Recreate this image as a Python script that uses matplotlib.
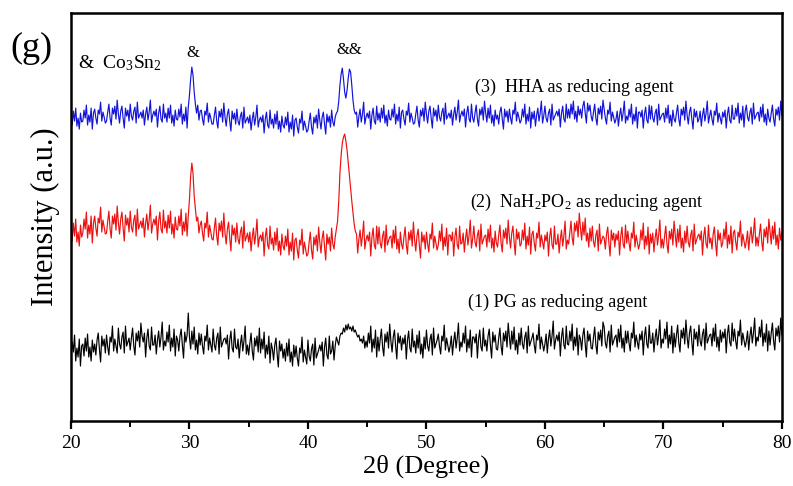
import numpy as np
import matplotlib.pyplot as plt
from matplotlib.ticker import MultipleLocator

plt.rcParams['font.family'] = ['Liberation Serif', 'DejaVu Serif']
plt.rcParams['mathtext.fontset'] = 'custom'
plt.rcParams['mathtext.rm'] = 'Liberation Serif'
plt.rcParams['mathtext.it'] = 'Liberation Serif:italic'

# intensities, one row per degree (0.1 deg step), 20..80
# (3) HHA as reducing agent
hha = [
    315, 306, 320, 310, 323, 305, 313, 302, 318, 309,  # 20
    310, 321, 313, 326, 306, 316, 309, 323, 302, 318,
    322, 313, 307, 321, 317, 329, 310, 319, 314, 308,
    310, 319, 327, 313, 306, 323, 317, 325, 312, 331,
    317, 308, 320, 325, 313, 303, 323, 315, 321, 310,
    327, 315, 311, 320, 324, 308, 329, 313, 316, 319,  # 25
    313, 321, 306, 317, 324, 311, 319, 331, 309, 316,
    320, 315, 322, 304, 318, 325, 312, 309, 327, 313,
    318, 309, 323, 313, 326, 308, 316, 305, 321, 312,
    311, 322, 314, 327, 307, 317, 310, 324, 303, 324,
    336, 352, 364, 356, 339, 327, 318, 326, 311, 320,  # 30
    321, 312, 306, 320, 316, 328, 309, 318, 313, 307,
    307, 316, 324, 310, 303, 320, 314, 322, 309, 328,
    314, 305, 317, 322, 310, 300, 320, 312, 318, 307,
    322, 310, 306, 315, 319, 303, 324, 308, 311, 314,
    308, 316, 301, 312, 319, 306, 314, 326, 304, 311,  # 35
    314, 309, 316, 298, 312, 319, 306, 303, 321, 307,
    312, 303, 317, 307, 320, 302, 310, 299, 315, 306,
    303, 314, 306, 319, 299, 309, 302, 316, 295, 311,
    313, 304, 298, 312, 308, 320, 301, 310, 305, 299,
    301, 310, 318, 304, 297, 314, 308, 316, 303, 322,  # 40
    311, 302, 314, 319, 307, 297, 317, 309, 315, 304,
    321, 309, 305, 314, 318, 320, 330, 346, 357, 363,
    352, 339, 333, 341, 353, 362, 359, 346, 331, 321,
    317, 319, 304, 315, 322, 309, 317, 329, 307, 314,
    318, 313, 320, 302, 316, 323, 310, 307, 325, 311,  # 45
    318, 309, 323, 313, 326, 308, 316, 305, 321, 312,
    311, 322, 314, 327, 307, 317, 310, 324, 303, 319,
    321, 312, 306, 320, 316, 328, 309, 318, 313, 307,
    308, 317, 325, 311, 304, 321, 315, 323, 310, 329,
    317, 308, 320, 325, 313, 303, 323, 315, 321, 310,  # 50
    326, 314, 310, 319, 323, 307, 328, 312, 315, 318,
    313, 321, 306, 317, 324, 311, 319, 331, 309, 316,
    320, 315, 322, 304, 318, 325, 312, 309, 327, 313,
    309, 318, 326, 312, 305, 322, 316, 324, 311, 330,
    318, 309, 323, 313, 326, 308, 316, 305, 321, 312,  # 55
    316, 307, 319, 324, 312, 302, 322, 314, 320, 309,
    322, 313, 307, 321, 317, 329, 310, 319, 314, 308,
    311, 322, 314, 327, 307, 317, 310, 324, 303, 319,
    312, 320, 305, 316, 323, 310, 318, 330, 308, 315,
    325, 313, 309, 318, 322, 306, 327, 311, 314, 317,  # 60
    320, 315, 322, 304, 318, 325, 312, 309, 327, 313,
    322, 313, 327, 317, 330, 312, 320, 309, 325, 316,
    322, 313, 325, 330, 318, 308, 328, 320, 326, 315,
    310, 319, 327, 313, 306, 323, 317, 325, 312, 331,
    322, 313, 307, 321, 317, 329, 310, 319, 314, 308,  # 65
    312, 320, 305, 316, 323, 310, 318, 330, 308, 315,
    311, 322, 314, 327, 307, 317, 310, 324, 303, 319,
    319, 314, 321, 303, 317, 324, 311, 308, 326, 312,
    325, 313, 309, 318, 322, 306, 327, 311, 314, 317,
    318, 309, 323, 313, 326, 308, 316, 305, 321, 312,  # 70
    309, 318, 326, 312, 305, 322, 316, 324, 311, 330,
    316, 307, 319, 324, 312, 302, 322, 314, 320, 309,
    312, 320, 305, 316, 323, 310, 318, 330, 308, 315,
    321, 312, 306, 320, 316, 328, 309, 318, 313, 307,
    319, 314, 321, 303, 317, 324, 311, 308, 326, 312,  # 75
    312, 323, 315, 328, 308, 318, 311, 325, 304, 320,
    326, 314, 310, 319, 323, 307, 328, 312, 315, 318,
    319, 310, 324, 314, 327, 309, 317, 306, 322, 313,
    309, 318, 326, 312, 305, 322, 316, 324, 311, 330,
    316,
]

# (2) NaH2PO2 as reducing agent
nah2po2 = [
    202, 190, 208, 195, 212, 189, 199, 185, 206, 194,  # 20
    198, 212, 202, 219, 193, 206, 197, 215, 188, 208,
    215, 203, 195, 213, 208, 224, 199, 211, 204, 197,
    198, 210, 220, 202, 193, 215, 207, 217, 201, 225,
    208, 197, 212, 219, 203, 190, 216, 206, 213, 199,
    220, 204, 199, 211, 216, 195, 222, 202, 206, 210,  # 25
    203, 213, 194, 208, 217, 201, 211, 226, 198, 207,
    212, 206, 215, 191, 210, 219, 202, 198, 221, 203,
    210, 198, 216, 203, 220, 197, 207, 193, 214, 202,
    201, 215, 205, 222, 196, 209, 200, 218, 195, 215,
    232, 255, 268, 258, 235, 222, 210, 214, 198, 206,  # 30
    210, 198, 190, 208, 203, 219, 194, 206, 199, 192,
    191, 203, 213, 195, 186, 208, 200, 210, 194, 218,
    198, 187, 202, 209, 193, 180, 206, 196, 203, 189,
    208, 192, 187, 199, 204, 183, 210, 190, 194, 198,
    189, 199, 180, 194, 203, 187, 197, 212, 184, 193,  # 35
    196, 190, 199, 175, 194, 203, 186, 182, 205, 187,
    193, 181, 199, 186, 203, 180, 190, 176, 197, 185,
    181, 195, 185, 202, 176, 189, 180, 198, 171, 191,
    193, 181, 173, 191, 186, 202, 177, 189, 182, 175,
    177, 189, 199, 181, 172, 194, 186, 196, 180, 204,  # 40
    189, 178, 193, 200, 184, 171, 197, 187, 194, 180,
    203, 187, 182, 194, 202, 210, 230, 258, 276, 288,
    294, 297, 290, 281, 268, 256, 243, 230, 218, 207,
    200, 197, 178, 192, 201, 185, 195, 210, 182, 191,
    196, 190, 199, 175, 194, 203, 186, 182, 205, 187,  # 45
    204, 188, 183, 195, 200, 179, 206, 186, 190, 194,
    195, 183, 201, 188, 205, 182, 192, 178, 199, 187,
    182, 194, 204, 186, 177, 199, 191, 201, 185, 209,
    191, 180, 195, 202, 186, 173, 199, 189, 196, 182,
    199, 187, 179, 197, 192, 208, 183, 195, 188, 181,  # 50
    186, 200, 190, 207, 181, 194, 185, 203, 176, 196,
    196, 190, 199, 175, 194, 203, 186, 182, 205, 187,
    188, 198, 179, 193, 202, 186, 196, 211, 183, 192,
    205, 189, 184, 196, 201, 180, 207, 187, 191, 195,
    196, 184, 202, 189, 206, 183, 193, 179, 200, 188,  # 55
    184, 196, 206, 188, 179, 201, 193, 203, 187, 211,
    194, 183, 198, 205, 189, 176, 202, 192, 199, 185,
    187, 201, 191, 208, 182, 195, 186, 204, 177, 197,
    200, 188, 180, 198, 193, 209, 184, 196, 189, 182,
    196, 190, 199, 175, 194, 203, 186, 182, 205, 187,  # 60
    187, 197, 178, 192, 201, 185, 195, 210, 182, 191,
    187, 199, 210, 193, 186, 208, 200, 210, 194, 218,
    203, 191, 209, 196, 213, 190, 198, 184, 203, 190,
    205, 189, 184, 196, 201, 180, 207, 187, 191, 195,
    193, 182, 197, 204, 188, 175, 201, 191, 198, 184,  # 65
    197, 191, 200, 176, 195, 204, 187, 183, 206, 188,
    200, 188, 180, 198, 193, 209, 184, 196, 189, 182,
    187, 201, 191, 208, 182, 195, 186, 204, 177, 197,
    188, 198, 179, 193, 202, 186, 196, 211, 183, 192,
    183, 195, 205, 187, 178, 200, 192, 202, 186, 210,  # 70
    196, 184, 202, 189, 206, 183, 193, 179, 200, 188,
    205, 189, 184, 196, 201, 180, 207, 187, 191, 195,
    197, 191, 200, 176, 195, 204, 187, 183, 206, 188,
    193, 182, 197, 204, 188, 175, 201, 191, 198, 184,
    188, 202, 192, 209, 183, 196, 187, 205, 178, 198,  # 75
    201, 189, 181, 199, 194, 210, 185, 197, 190, 183,
    190, 200, 181, 195, 204, 188, 198, 213, 185, 194,
    185, 197, 207, 189, 180, 202, 194, 204, 188, 212,
    199, 187, 205, 192, 209, 186, 196, 182, 203, 191,
    198,
]

# (1) PG as reducing agent
pg = [
    75, 89, 79, 96, 70, 83, 74, 92, 65, 85,  # 20
    87, 75, 93, 80, 97, 74, 84, 70, 91, 79,
    87, 76, 91, 98, 82, 69, 95, 85, 92, 78,
    96, 84, 76, 94, 89, 105, 80, 92, 85, 78,
    103, 87, 82, 94, 99, 78, 105, 85, 89, 93,
    81, 93, 103, 85, 76, 98, 90, 100, 84, 108,  # 25
    95, 89, 98, 74, 93, 102, 85, 81, 104, 86,
    86, 96, 77, 91, 100, 84, 94, 109, 81, 90,
    85, 99, 89, 106, 80, 93, 84, 102, 75, 95,
    91, 80, 95, 102, 86, 73, 99, 89, 96, 118,
    94, 82, 100, 87, 104, 81, 91, 77, 98, 86,  # 30
    97, 85, 77, 95, 90, 106, 81, 93, 86, 79,
    102, 86, 81, 93, 98, 77, 104, 84, 88, 92,
    93, 87, 96, 72, 91, 100, 83, 79, 102, 84,
    82, 92, 73, 87, 96, 80, 90, 105, 77, 86,
    76, 88, 98, 80, 71, 93, 85, 95, 79, 103,  # 35
    78, 92, 82, 99, 73, 86, 77, 95, 68, 88,
    82, 71, 86, 93, 77, 64, 90, 80, 87, 73,
    82, 70, 88, 75, 92, 69, 79, 65, 86, 74,
    85, 73, 65, 83, 78, 94, 69, 81, 74, 67,
    91, 75, 70, 82, 87, 66, 93, 73, 77, 81,  # 40
    86, 80, 89, 65, 84, 93, 76, 72, 95, 77,
    80, 90, 71, 85, 94, 90, 86, 95, 98, 97,
    103, 99, 106, 101, 107, 102, 104, 100, 105, 99,
    101, 97, 94, 96, 90, 92, 88, 95, 83, 90,
    84, 98, 88, 105, 79, 92, 83, 101, 74, 94,  # 45
    80, 92, 102, 84, 75, 97, 89, 99, 83, 107,
    90, 79, 94, 101, 85, 72, 98, 88, 95, 81,
    93, 87, 96, 72, 91, 100, 83, 79, 102, 84,
    90, 78, 96, 83, 100, 77, 87, 73, 94, 82,
    101, 85, 80, 92, 97, 76, 103, 83, 87, 91,  # 50
    97, 85, 77, 95, 90, 106, 81, 93, 86, 79,
    85, 95, 76, 90, 99, 83, 93, 108, 80, 89,
    84, 98, 88, 105, 79, 92, 83, 101, 74, 94,
    94, 88, 97, 73, 92, 101, 84, 80, 103, 85,
    91, 80, 95, 102, 86, 73, 99, 89, 96, 82,  # 55
    81, 93, 103, 85, 76, 98, 90, 100, 84, 108,
    94, 82, 100, 87, 104, 81, 91, 77, 98, 86,
    103, 87, 82, 94, 99, 78, 105, 85, 89, 93,
    98, 86, 78, 96, 91, 107, 82, 94, 87, 80,
    87, 97, 78, 92, 101, 85, 95, 110, 82, 91,  # 60
    96, 90, 99, 75, 94, 103, 86, 82, 105, 87,
    86, 100, 90, 107, 81, 94, 85, 103, 76, 96,
    92, 81, 96, 103, 87, 74, 100, 90, 97, 83,
    82, 94, 104, 86, 77, 99, 91, 101, 85, 109,
    104, 88, 83, 95, 100, 79, 106, 86, 90, 94,  # 65
    96, 84, 102, 89, 106, 83, 93, 79, 100, 88,
    100, 88, 80, 98, 93, 109, 84, 96, 89, 82,
    97, 91, 100, 76, 95, 104, 87, 83, 106, 88,
    88, 98, 79, 93, 102, 86, 96, 111, 83, 92,
    88, 102, 92, 109, 83, 96, 87, 105, 78, 98,  # 70
    84, 96, 106, 88, 79, 101, 93, 103, 87, 111,
    94, 83, 98, 105, 89, 76, 102, 92, 99, 85,
    106, 90, 85, 97, 102, 81, 108, 88, 92, 96,
    97, 85, 103, 90, 107, 84, 94, 80, 101, 89,
    99, 93, 102, 78, 97, 106, 89, 85, 108, 90,  # 75
    102, 90, 82, 100, 95, 111, 86, 98, 91, 84,
    90, 100, 81, 95, 104, 88, 98, 113, 85, 94,
    90, 104, 94, 111, 85, 98, 89, 107, 80, 100,
    86, 98, 108, 90, 81, 103, 95, 105, 89, 113,
    96,
]

fig = plt.figure(figsize=(7.93, 4.86), dpi=100)
ax = fig.add_axes([0.0895, 0.1337, 0.8965, 0.8393])

for vals, col in [(pg, 'black'), (nah2po2, '#ee1010'), (hha, '#1414d8')]:
    tt = np.linspace(20, 80, len(vals))
    ax.plot(tt, vals, color=col, lw=0.85)

ax.set_xlim(20, 80)
ax.set_ylim(10, 418)
ax.xaxis.set_major_locator(MultipleLocator(10))
ax.xaxis.set_minor_locator(MultipleLocator(5))
ax.set_yticks([])
ax.tick_params(axis='x', which='major', direction='out', length=6, width=1.6,
               labelsize=14, top=False, pad=4)
ax.tick_params(axis='x', which='minor', direction='out', length=4, width=1.4, top=False)
for s in ax.spines.values():
    s.set_linewidth(1.8)

ax.set_xlabel('2θ (Degree)', fontsize=19, labelpad=2)
ax.set_ylabel('Intensity (a.u.)', fontsize=22, labelpad=8)

ax.text(54.1, 344, '(3)  HHA as reducing agent', fontsize=13, va='center')
ax.text(53.7, 229, r'(2)  NaH$_2$PO$_2$ as reducing agent', fontsize=13, va='center')
ax.text(53.5, 129, '(1) PG as reducing agent', fontsize=13, va='center')
ax.text(20.6, 368, r'&  Co$_3$Sn$_2$', fontsize=14, va='center')
ax.text(30.3, 378, '&', fontsize=12, ha='center', va='center')
ax.text(43.5, 381, '&&', fontsize=12, ha='center', va='center')
fig.text(0.04, 0.90, '(g)', fontsize=26, ha='center', va='center')

fig.savefig('out.png', dpi=100)
